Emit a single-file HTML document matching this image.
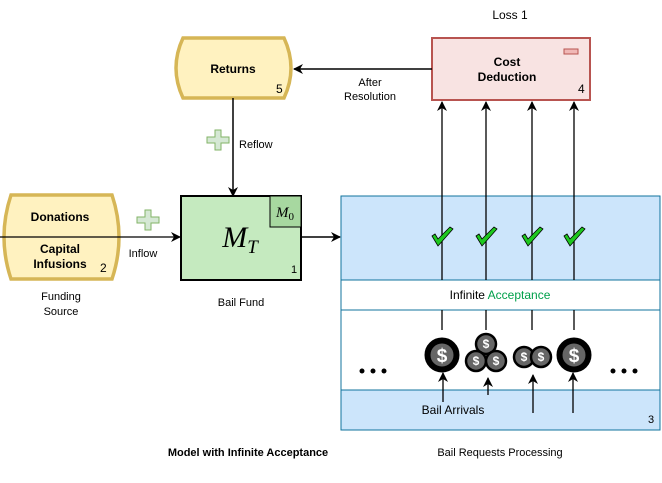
<html><body style="margin:0;background:#fff">
<svg width="662" height="483" viewBox="0 0 662 483" xmlns="http://www.w3.org/2000/svg" font-family="Liberation Sans, sans-serif">
<defs><marker id="a" markerWidth="10" markerHeight="10" refX="9" refY="5" orient="auto" markerUnits="userSpaceOnUse"><path d="M0,0 L10,5 L0,10 L3,5 Z" fill="#000"/></marker></defs>
<text x="510" y="19" font-size="12" text-anchor="middle">Loss 1</text>
<path d="M183,38 H284 Q298,68 284,98 H183 Q169,68 183,38 Z" fill="#fff2c0" stroke="#d6b656" stroke-width="3.5"/>
<text x="233" y="73" font-size="12" font-weight="bold" text-anchor="middle">Returns</text>
<text x="276" y="93" font-size="12">5</text>
<rect x="432" y="38" width="158" height="62" fill="#f8e3e2" stroke="#b85450" stroke-width="2"/>
<rect x="564" y="49" width="14" height="5" fill="#f0b8b6" stroke="#b85450"/>
<text x="507" y="66" font-size="12" font-weight="bold" text-anchor="middle">Cost</text>
<text x="507" y="81" font-size="12" font-weight="bold" text-anchor="middle">Deduction</text>
<text x="578" y="93" font-size="12">4</text>
<line x1="432" y1="69" x2="294" y2="69" stroke="#000" stroke-width="1.5" marker-end="url(#a)"/>
<text x="370" y="86" font-size="11" text-anchor="middle">After</text>
<text x="370" y="100" font-size="11" text-anchor="middle">Resolution</text>
<line x1="233" y1="98" x2="233" y2="196" stroke="#000" stroke-width="1.5" marker-end="url(#a)"/>
<path d="M214,137h8v-7h6v7h8v6h-8v7h-6v-7h-8z" transform="translate(-7,0)" fill="#d5e8d4" stroke="#82b366"/>
<text x="239" y="148" font-size="11">Reflow</text>
<path d="M11,195 H112 Q126,237 112,279 H11 Q-3,237 11,195 Z" fill="#fff2c0" stroke="#d6b656" stroke-width="3.5"/>
<text x="60" y="221" font-size="12" font-weight="bold" text-anchor="middle">Donations</text>
<text x="60" y="253" font-size="12" font-weight="bold" text-anchor="middle">Capital</text>
<text x="60" y="268" font-size="12" font-weight="bold" text-anchor="middle">Infusions</text>
<text x="100" y="272" font-size="12">2</text>
<line x1="0" y1="237" x2="180" y2="237" stroke="#000" stroke-width="1.3" marker-end="url(#a)"/>
<path d="M137,217h8v-7h6v7h8v6h-8v7h-6v-7h-8z" fill="#d5e8d4" stroke="#82b366"/>
<text x="143" y="257" font-size="11" text-anchor="middle">Inflow</text>
<text x="61" y="300" font-size="11" text-anchor="middle">Funding</text>
<text x="61" y="315" font-size="11" text-anchor="middle">Source</text>
<rect x="181" y="196" width="120" height="84" fill="#c5eabf" stroke="#000" stroke-width="2"/>
<rect x="270" y="196" width="31" height="31" fill="#a7d8a0" stroke="#000" stroke-width="1"/>
<text x="285" y="217" font-size="15" font-style="italic" font-family="Liberation Serif, serif" text-anchor="middle">M<tspan font-style="normal" font-size="11" dy="3">0</tspan></text>
<text x="240" y="247" font-size="30" font-style="italic" font-family="Liberation Serif, serif" text-anchor="middle">M<tspan font-size="19" dy="6">T</tspan></text>
<text x="291" y="273" font-size="11">1</text>
<text x="241" y="306" font-size="11" text-anchor="middle">Bail Fund</text>
<line x1="301" y1="237" x2="340" y2="237" stroke="#000" stroke-width="1.5" marker-end="url(#a)"/>
<rect x="341" y="196" width="319" height="84" fill="#cce5fb" stroke="#10739e"/>
<rect x="341" y="280" width="319" height="30" fill="#fff" stroke="#10739e"/>
<rect x="341" y="310" width="319" height="80" fill="#fff" stroke="#10739e"/>
<rect x="341" y="390" width="319" height="40" fill="#cce5fb" stroke="#10739e"/>
<text x="500" y="299" font-size="12" text-anchor="middle">Infinite <tspan fill="#00a04a">Acceptance</tspan></text>
<g stroke="#000" stroke-width="1.3">
<line x1="442" y1="280" x2="442" y2="102" marker-end="url(#a)"/>
<line x1="486" y1="280" x2="486" y2="102" marker-end="url(#a)"/>
<line x1="532" y1="280" x2="532" y2="102" marker-end="url(#a)"/>
<line x1="574" y1="280" x2="574" y2="102" marker-end="url(#a)"/>
<line x1="442" y1="310" x2="442" y2="330"/><line x1="486" y1="310" x2="486" y2="330"/>
<line x1="532" y1="310" x2="532" y2="330"/><line x1="574" y1="310" x2="574" y2="330"/>
<line x1="443" y1="413" x2="443" y2="373" marker-end="url(#a)"/>
<line x1="488" y1="395" x2="488" y2="378" marker-end="url(#a)"/>
<line x1="533" y1="413" x2="533" y2="375" marker-end="url(#a)"/>
<line x1="573" y1="413" x2="573" y2="373" marker-end="url(#a)"/>
</g>
<g fill="#1ec81e" stroke="#000" stroke-width="0.8">
<path d="M432,236 l6,10 l15,-17 l-3,-2 l-12,12 l-3,-5 z"/>
<path d="M476,236 l6,10 l15,-17 l-3,-2 l-12,12 l-3,-5 z"/>
<path d="M522,236 l6,10 l15,-17 l-3,-2 l-12,12 l-3,-5 z"/>
<path d="M564,236 l6,10 l15,-17 l-3,-2 l-12,12 l-3,-5 z"/>
</g>
<g stroke="#000">
<circle cx="442" cy="355" r="17" fill="#000"/><circle cx="442" cy="355" r="12" fill="#666" stroke-width="1"/>
<circle cx="486" cy="344" r="10" fill="#666" stroke-width="2.5"/>
<circle cx="476" cy="361" r="10" fill="#666" stroke-width="2.5"/>
<circle cx="496" cy="361" r="10" fill="#666" stroke-width="2.5"/>
<circle cx="524" cy="357" r="10" fill="#666" stroke-width="2.5"/>
<circle cx="541" cy="357" r="10" fill="#666" stroke-width="2.5"/>
<circle cx="574" cy="355" r="17" fill="#000"/><circle cx="574" cy="355" r="12" fill="#666" stroke-width="1"/>
</g>
<g font-weight="bold" fill="#fff" text-anchor="middle" font-size="19"><text x="442" y="362">$</text><text x="574" y="362">$</text></g>
<g font-weight="bold" fill="#fff" text-anchor="middle" font-size="12"><text x="486" y="348">$</text><text x="476" y="365">$</text><text x="496" y="365">$</text><text x="524" y="361">$</text><text x="541" y="361">$</text></g>
<g fill="#000"><circle cx="362" cy="371" r="2.5"/><circle cx="373" cy="371" r="2.5"/><circle cx="384" cy="371" r="2.5"/>
<circle cx="613" cy="371" r="2.5"/><circle cx="624" cy="371" r="2.5"/><circle cx="635" cy="371" r="2.5"/></g>
<rect x="420" y="402" width="66" height="14" fill="#cce5fb"/>
<text x="453" y="414" font-size="12" text-anchor="middle">Bail Arrivals</text>
<text x="648" y="423" font-size="11">3</text>
<text x="248" y="456" font-size="11" font-weight="bold" text-anchor="middle">Model with Infinite Acceptance</text>
<text x="500" y="456" font-size="11" text-anchor="middle">Bail Requests Processing</text>
</svg>
</body></html>
